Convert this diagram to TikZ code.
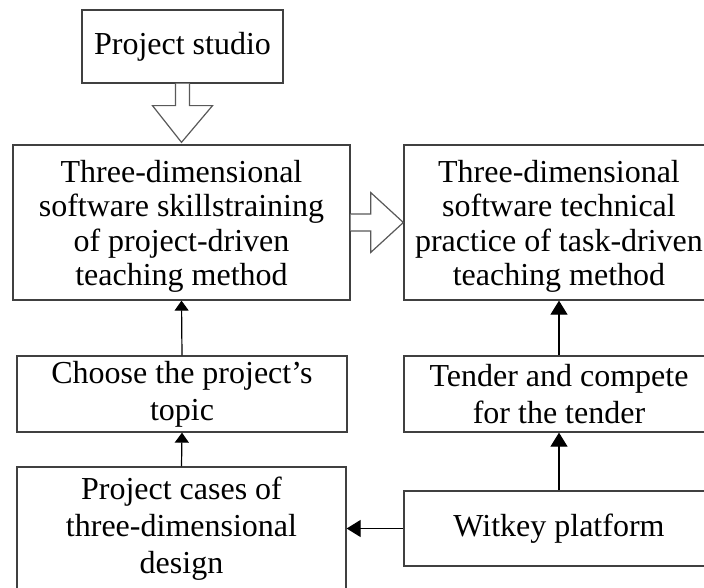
\documentclass[tikz,border=0pt]{standalone}
\usepackage{fontspec}
\setmainfont{Liberation Serif}
\usetikzlibrary{arrows.meta,calc}
\newcommand{\bigtext}[1]{\begin{minipage}{300pt}\centering\fontsize{32}{34.5}\selectfont\vspace*{8pt}#1\end{minipage}}
\tikzset{
  boxnode/.style={draw=black!75, line width=1.3pt, fill=white, inner sep=0pt,
    align=center, font=\fontsize{32}{36.7}\selectfont},
  arr/.style={draw=black, line width=1.2pt, -{Triangle[length=14pt,width=17pt]}},
  smallarr/.style={draw=black, line width=1.2pt, -{Triangle[length=10pt,width=14pt]}},
  hollow/.style={draw=black!65, line width=1.2pt, fill=white, line join=miter},
}
\begin{document}
\begin{tikzpicture}[x=1pt,y=-1pt]
\useasboundingbox (0,0) rectangle (704,588);
\clip (0,0) rectangle (704,588);
\fill[white] (0,0) rectangle (704,588);

\node[boxnode, minimum width=201pt, minimum height=73pt] (studio) at (182.5,46.5) {Project studio};
\node[boxnode, minimum width=337pt, minimum height=155pt] (skill) at (181.5,222.5)
  {\bigtext{Three-dimensional\\software skillstraining\\of project-driven\\teaching method}};
\node[boxnode, minimum width=310pt, minimum height=155pt] (tech) at (559,222.5)
  {\bigtext{Three-dimensional\\software technical\\practice of task-driven\\teaching method}};
\node[boxnode, minimum width=330pt, minimum height=76pt] (choose) at (182,394)
  {Choose the project’s\\topic};
\node[boxnode, minimum width=310pt, minimum height=76pt] (tender) at (559,394)
  {Tender and compete\\for the tender};
\node[boxnode, minimum width=329pt, minimum height=123pt] (cases) at (181.5,528.5)
  {Project cases of\\three-dimensional\\design};
\node[boxnode, minimum width=310pt, minimum height=75pt] (witkey) at (559,528.5)
  {Witkey platform};

% hollow arrow down
\draw[hollow] ($(studio.south)+(-7,0)$) -- ($(studio.south)+(-7,22)$)
  -- ($(studio.south)+(-30,22)$) -- ($(skill.north)+(0,-2)$)
  -- ($(studio.south)+(30,22)$) -- ($(studio.south)+(7,22)$)
  -- ($(studio.south)+(7,0)$);
% hollow arrow right
\draw[hollow] ($(skill.east)+(0,-8.5)$) -- ($(skill.east)+(20,-8.5)$)
  -- ($(skill.east)+(20,-30)$) -- (tech.west)
  -- ($(skill.east)+(20,30)$) -- ($(skill.east)+(20,8.5)$)
  -- ($(skill.east)+(0,8.5)$);

\draw[smallarr] (choose.north) -- (skill.south);
\draw[smallarr] (cases.north) -- (choose.south);
\draw[arr] (tender.north) -- (tech.south);
\draw[arr] (witkey.north) -- (tender.south);
\draw[arr] (witkey.west) -- (cases.east);
\end{tikzpicture}
\end{document}
